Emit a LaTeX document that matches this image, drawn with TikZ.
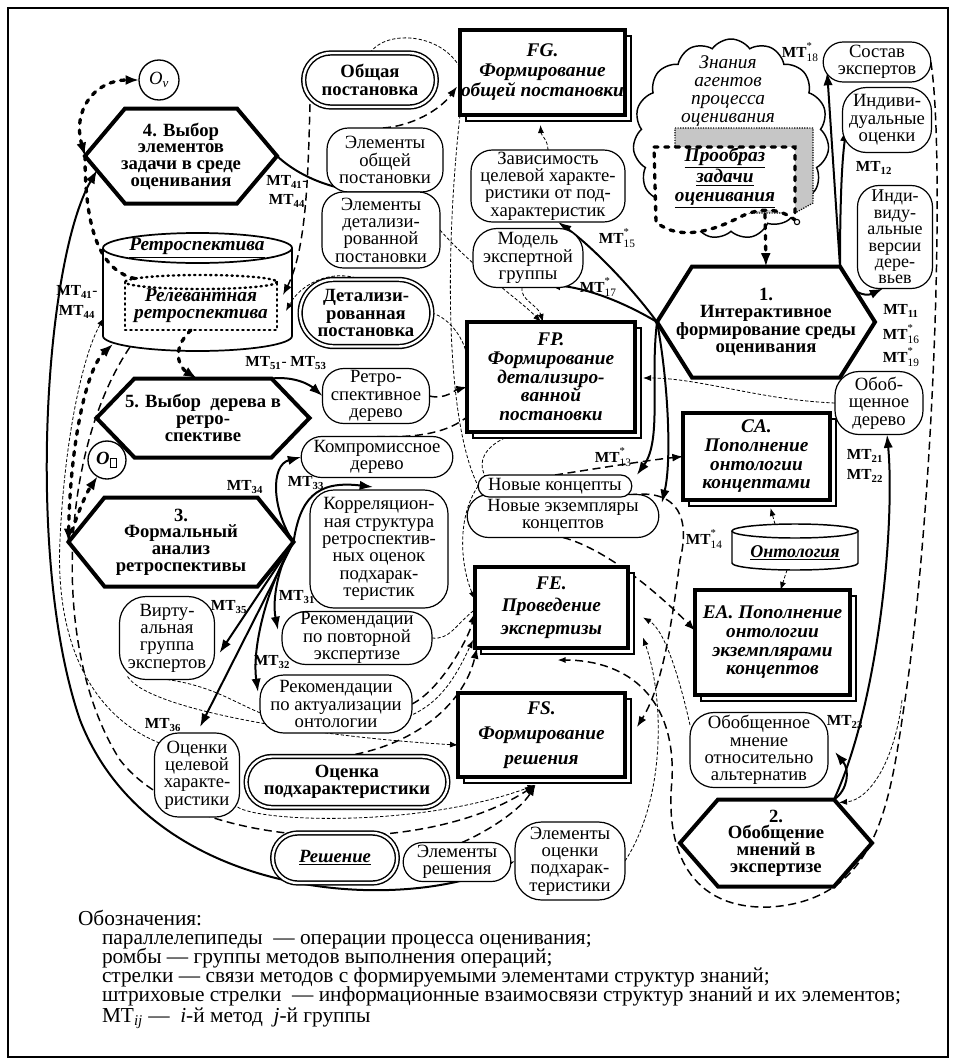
\documentclass[tikz,border=0pt]{standalone}
\usepackage{fontspec}
\setmainfont{Liberation Serif}
\usetikzlibrary{shapes.misc,shapes.symbols,shapes.geometric,arrows.meta,calc,shadows}
\pgfdeclarelayer{bg}
\pgfdeclarelayer{hexl}
\pgfsetlayers{bg,hexl,main}
\newcommand{\mtl}[1]{\textbf{МТ}\textsubscript{\bfseries #1}}
\newcommand{\mts}[1]{\textbf{МТ}\rlap{\raisebox{5.5pt}{\fontsize{8}{8}\selectfont *}}\raisebox{-3pt}{\fontsize{8.5}{8.5}\selectfont #1}}
\newcommand{\hexa}[2]{%
 \coordinate (#1-tl) at ($(#1.north west)+(#2,0)$);
 \coordinate (#1-tr) at ($(#1.north east)+(-#2,0)$);
 \coordinate (#1-bl) at ($(#1.south west)+(#2,0)$);
 \coordinate (#1-br) at ($(#1.south east)+(-#2,0)$);
 \begin{pgfonlayer}{hexl}\draw[hexline] (#1.west) -- (#1-tl) -- (#1-tr) -- (#1.east) -- (#1-br) -- (#1-bl) -- cycle;\end{pgfonlayer}}
\tikzset{
 every node/.style={inner sep=0.5pt, outer sep=0pt},
 wh/.style 2 args={minimum width=#1*0.75pt, minimum height=#2*0.75pt},
 txt/.style={font=\fontsize{14}{13}\selectfont, align=center},
 elem/.style={txt, draw, line width=0.9pt, fill=white, rounded corners=12pt},
 pill/.style={txt, draw, line width=0.9pt, fill=white, rounded rectangle},
 dpill/.style={font=\fontsize{14}{13}\selectfont\bfseries, align=center, draw, rounded rectangle, double, double distance=1.8pt, line width=1.1pt, fill=white},
 opbox/.style={font=\fontsize{14.5}{14}\selectfont\bfseries\itshape, align=center, draw, line width=3pt, fill=white, general shadow={shadow xshift=4.5pt, shadow yshift=-4.5pt, draw, line width=2pt, fill=white}},
 hext/.style={font=\fontsize{14}{12.5}\selectfont\bfseries, align=center, inner sep=0pt},
 hexline/.style={line width=3pt, fill=white, line join=miter},
 meth/.style={line width=1.5pt, -{Latex[length=10pt,width=7pt]}},
 bothL/.style={{Latex[length=10pt,width=7.5pt]}-{Latex[length=10pt,width=7.5pt]}},
 tipL/.style={-{Latex[length=10pt,width=7.5pt]}},
 tipM/.style={-{Latex[length=8pt,width=6pt]}},
 tipS/.style={-{Latex[length=6pt,width=4.5pt]}},
 tdash/.style={line width=2.5pt, dash pattern=on 3pt off 5pt, line cap=round},
 rdot/.style={line width=1.8pt, dash pattern=on 1pt off 3pt, line cap=round},
 mdash/.style={line width=1.1pt, dash pattern=on 6pt off 3.5pt},
 fdash/.style={line width=0.6pt, dash pattern=on 2.5pt off 1.5pt},
 mtlab/.style={font=\fontsize{11.5}{11.5}\selectfont, inner sep=0pt},
 leg/.style={font=\fontsize{16}{15}\selectfont, anchor=base west, inner sep=0pt}
}
\begin{document}
\begin{tikzpicture}[x=0.75pt,y=-0.75pt]
\useasboundingbox (0,0) rectangle (956,1064);
\draw[line width=0.8pt] (8,8) rectangle (948,1057);

% ---------- cloud ----------
\node[cloud, draw, line width=1.1pt, fill=white, cloud puffs=15, cloud puff arc=110, cloud ignores aspect, wh={196}{200}] (cloud) at (731,139) {};
\draw[densely dotted, line width=0.9pt, fill=gray!45] (675,128) -- (813,128) -- (813,203) -- (795,213) -- (675,213) -- cycle;
\draw[tdash, fill=white] (654,147) -- (795,147) -- (795,220) .. controls (780,208) and (760,207) .. (740,217) .. controls (715,230) and (680,242) .. (656,222) -- cycle;
\node[draw, circle, line width=0.8pt, inner sep=0pt, minimum size=4pt, fill=white] (pdot) at (797,222) {};
\coordinate (prob) at (765,214);
\node[font=\fontsize{14.5}{14.3}\selectfont\bfseries\itshape, align=center] (pro) at (725,178) {\underline{Прообраз}\\\underline{задачи}\\\underline{оценивания}};
\node[font=\fontsize{14.5}{13.5}\selectfont\itshape, align=center] (cloudt) at (728,91) {Знания\\агентов\\процесса\\оценивания};

% ---------- nodes ----------
\node[dpill, wh={134}{54}] (obsh) at (370,80) {Общая\\постановка};
\node[circle, draw, line width=1pt, fill=white, wh={40}{40}, font=\fontsize{14}{14}\selectfont] (ov) at (159,80) {{\itshape O}\textsubscript{\itshape v}};
\node[opbox, wh={165}{85}] (fg) at (542.5,72.5) {FG.\\[1pt]Формирование\\[1pt]общей постановки};
\node[pill, wh={109}{40}] (sostav) at (877,62) {Состав\\экспертов};
\node[elem, rounded corners=18pt, wh={89}{65}] (indoc) at (887,120) {Индиви-\\дуальные\\оценки};
\node[elem, rounded corners=16pt, wh={75}{103}, font=\fontsize{13.5}{12.3}\selectfont] (indver) at (895,237) {Инди-\\виду-\\альные\\версии\\дере-\\вьев};
\node[hext, wh={192}{95}] (h4) at (181,156) {4. Выбор\\элементов\\задачи в среде\\оценивания};
\hexa{h4}{40}
\node[elem, rounded corners=16pt, wh={116}{64}] (elob) at (385,160) {Элементы\\общей\\постановки};
\node[elem, rounded corners=16pt, wh={118}{76}] (eldet) at (381,230) {Элементы\\детализи-\\рованной\\постановки};
\node[elem, rounded corners=16pt, wh={154}{72}] (zavis) at (548,186) {Зависимость\\целевой характе-\\ристики от под-\\характеристик};
\node[elem, rounded corners=18pt, wh={110}{59}] (model) at (528,258) {Модель\\экспертной\\группы};
\node[hext, wh={218}{111}] (h1) at (766,322) {1.\\Интерактивное\\формирование среды\\оценивания};
\hexa{h1}{35}
\node[dpill, wh={133}{67}] (detp) at (366,313) {Детализи-\\рованная\\постановка};
\node[opbox, wh={168}{110}] (fp) at (551,377) {FP.\\Формирование\\детализиро-\\ванной\\постановки};
\node[hext, wh={213}{79}] (h5) at (203,418) {5. Выбор \ дерева в\\ретро-\\спективе};
\hexa{h5}{38}
\node[elem, rounded corners=16pt, wh={107}{55}] (retrod) at (376,396) {Ретро-\\спективное\\дерево};
\node[elem, rounded corners=18pt, wh={88}{63}] (obder) at (879,403) {Обоб-\\щенное\\дерево};
\node[opbox, wh={147}{87}] (ca) at (756.5,456.5) {CA.\\Пополнение\\онтологии\\концептами};
\node[circle, draw, line width=1pt, fill=white, wh={38}{38}, font=\fontsize{14}{14}\selectfont] (ob) at (107,460) {{\bfseries\itshape O}\textsubscript{\fboxsep=0.3pt\fboxrule=0.5pt\fbox{\rule{0pt}{6pt}\hspace{4pt}}}};
\node[pill, wh={153}{41}] (kompr) at (377,457) {Компромиссное\\дерево};
\node[hext, wh={225}{89}] (h3) at (181,542) {3.\\Формальный\\анализ\\ретроспективы};
\hexa{h3}{36}
\node[elem, rounded corners=18pt, wh={138}{118}] (korr) at (379,549) {Корреляцион-\\ная структура\\ретроспектив-\\ных оценок\\подхарак-\\теристик};
\node[pill, wh={193}{43}] (nexem) at (563,516) {Новые экземпляры\\концептов};
\node[pill, wh={155}{22}] (nconc) at (555,486) {Новые концепты};
\node[opbox, wh={155}{105}] (ea) at (772.5,642.5) {EA. Пополнение\\онтологии\\экземплярами\\концептов};
\node[opbox, wh={153}{81}] (fe) at (551.5,607.5) {FE.\\[3pt]Проведение\\[3pt]экспертизы};
\node[elem, rounded corners=18pt, wh={150}{53}] (recp) at (357,638) {Рекомендации\\по повторной\\экспертизе};
\node[elem, rounded corners=20pt, wh={95}{83}] (virt) at (167,638) {Вирту-\\альная\\группа\\экспертов};
\node[elem, rounded corners=18pt, wh={152}{58}] (reca) at (336,704) {Рекомендации\\по актуализации\\онтологии};
\node[opbox, wh={167}{84}] (fs) at (541.5,735) {FS.\\[5pt]Формирование\\[5pt]решения};
\node[elem, rounded corners=18pt, wh={138}{75}] (obmn) at (759,750) {Обобщенное\\мнение\\относительно\\альтернатив};
\node[elem, rounded corners=18pt, wh={85}{84}] (ocel) at (197,775) {Оценки\\целевой\\характе-\\ристики};
\node[dpill, wh={203}{51}] (ocpod) at (347,782) {Оценка\\подхарактеристики};
\node[hext, wh={192}{87}] (h2) at (776,843) {2.\\Обобщение\\мнений в\\экспертизе};
\hexa{h2}{38}
\node[dpill, wh={126}{50}, font=\fontsize{14}{13}\selectfont\bfseries\itshape] (resh) at (335,858) {\underline{Решение}};
\node[pill, wh={109}{39}] (elres) at (457,862) {Элементы\\решения};
\node[elem, rounded corners=20pt, wh={110}{78}] (elocp) at (570,861) {Элементы\\оценки\\подхарак-\\теристики};

% ---------- retrospective cylinder ----------
\node[wh={189}{118}] (retro) at (197.5,292) {};
\draw[line width=1.3pt] (197.5,248) ellipse [x radius=94.5, y radius=15];
\draw[line width=1.3pt] (103,248) -- (103,336) .. controls (103,344.3) and (145.3,351) .. (197.5,351) .. controls (249.7,351) and (292,344.3) .. (292,336) -- (292,248);
\node[font=\fontsize{14.5}{14}\selectfont\bfseries\itshape] (retrot) at (197,248) {\underline{Ретроспектива}};
\node[wh={152}{48}, font=\fontsize{14.5}{13}\selectfont\bfseries\itshape, align=center] (relret) at (201,306) {Релевантная\\ретроспектива};
\draw[rdot] (relret.north west) -- (relret.south west) -- (relret.south east) -- (relret.north east);
\draw[rdot] (201,282) ellipse [x radius=76, y radius=7];
\coordinate (retrobot) at (130,347);
\coordinate (retrol) at (104,318);
\coordinate (retrobl) at (113,344);

% ---------- ontology cylinder ----------
\node[wh={126}{46}] (ont) at (795,547) {};
\draw[line width=1.1pt] (795,531) ellipse [x radius=63, y radius=7];
\draw[line width=1.1pt] (732,531) -- (732,563) .. controls (732,567) and (760,570) .. (795,570) .. controls (830,570) and (858,567) .. (858,563) -- (858,531);
\node[font=\fontsize{13.5}{13}\selectfont\bfseries\itshape] (ontt) at (795,553) {\underline{Онтология}};

\coordinate (br) at (902,700);

% ---------- labels ----------
\node[mtlab] (m18) at (800,52) {\mts{18}};
\node[mtlab] (m12) at (874,168) {\mtl{12}};
\node[mtlab] (m11) at (901,311) {\mtl{11}};
\node[mtlab] (m16) at (901,334) {\mts{16}};
\node[mtlab] (m19) at (901,357) {\mts{19}};
\node[mtlab] (m15) at (617,238) {\mts{15}};
\node[mtlab] (m17) at (598,287) {\mts{17}};
\node[mtlab] (m13) at (613,457) {\mts{13}};
\node[mtlab] (m14) at (704,539) {\mts{14}};
\node[mtlab] (m21) at (865,456) {\mtl{21}};
\node[mtlab] (m22) at (865,476) {\mtl{22}};
\node[mtlab] (m23) at (845,722) {\mtl{23}};
\node[mtlab] (m41a) at (287,182) {\mtl{41}-};
\node[mtlab] (m44a) at (287,201) {\mtl{44}};
\node[mtlab] (m41b) at (77,292) {\mtl{41}-};
\node[mtlab] (m44b) at (77,312) {\mtl{44}};
\node[mtlab] (m51) at (286,363) {\mtl{51}- \mtl{53}};
\node[mtlab] (m34) at (245,487) {\mtl{34}};
\node[mtlab] (m33) at (306,483) {\mtl{33}};
\node[mtlab] (m31) at (297,597) {\mtl{31}};
\node[mtlab] (m35) at (229,607) {\mtl{35}};
\node[mtlab] (m32) at (272,662) {\mtl{32}};
\node[mtlab] (m36) at (163,725) {\mtl{36}};

% ---------- legend ----------
\node[leg] (lg0) at (78,925) {Обозначения:};
\node[leg] (lg1) at (102,944) {параллелепипеды \ — операции процесса оценивания;};
\node[leg] (lg2) at (102,963) {ромбы — группы методов выполнения операций;};
\node[leg] (lg3) at (102,982) {стрелки — связи методов с формируемыми элементами структур знаний;};
\node[leg] (lg4) at (102,1001) {штриховые стрелки \ — информационные взаимосвязи структур знаний и их элементов;};
\node[leg] (lg5) at (102,1022) {МТ\textsubscript{\itshape ij} — \ \textit{i}-й метод \ \textit{j}-й группы};

\draw[tdash, tipL] (prob) -- (h1.north);

% ---------- connectors ----------
\begin{pgfonlayer}{bg}
% methods (solid)
\draw[meth] (h4.east) .. controls (305,182) and (345,192) .. (elob.south);
\draw[meth, bothL] ($(h4.west)!0.3!(h4-bl)$) .. controls (45,260) and (25,560) .. (80,720) .. controls (150,900) and (400,915) .. (elocp.west);
\draw[meth] (h1-tr) -- ($(sostav.west)+(4,10)$);
\draw[meth] (h1-tr) .. controls (840,200) and (842,160) .. ($(indoc.west)+(4,8)$);
\draw[meth] ($(h1-tr)!0.2!(h1.east)$) .. controls (850,292) and (865,297) .. ($(indver.south)+(-12,0)$);
\draw[meth] (h1.west) .. controls (630,285) and (590,245) .. ($(zavis.south)+(10,0)$);
\draw[meth] (h1.west) .. controls (620,300) and (585,288) .. ($(model.south)+(19,-3)$);
\draw[meth] (h1.west) .. controls (650,380) and (662,440) .. ($(nconc.east)+(5,-11)$);
\draw[meth] (h1.west) .. controls (668,380) and (672,460) .. ($(nexem.east)+(3,-13)$);
\draw[meth] (h2-tr) .. controls (848,790) and (850,770) .. ($(obmn.east)+(7,2)$);
\draw[meth] (h2-tr) .. controls (880,700) and (895,520) .. ($(obder.south)+(8,0)$);
\draw[meth] (h5-tr) .. controls (295,376) and (310,385) .. (retrod.west);
\draw[meth] (h3.east) .. controls (272,510) and (270,465) .. (kompr.west);
\draw[meth] (h3.east) .. controls (300,500) and (315,480) .. ($(korr.north)+(-6,-3)$);
\draw[meth] (h3.east) .. controls (278,565) and (272,600) .. ($(recp.west)+(-4,-8)$);
\draw[meth] (h3.east) .. controls (265,590) and (252,650) .. ($(reca.west)+(-2,-12)$);
\draw[meth] (h3.east) -- ($(virt.east)+(5,15)$);
\draw[meth] (h3.east) -- ($(ocel.north)+(3,-6)$);
% thick dashed
\draw[tdash, bothL] (h4.west) .. controls (72,110) and (95,80) .. (ov.west);
\draw[tdash] (h4.west) .. controls (85,230) and (100,272) .. ($(relret.north west)+(12,-3)$);
\draw[tdash, tipL] ($(relret.south)+(-10,0)$) .. controls (170,350) and (180,368) .. ($(h5.north)+(-6,0)$);
\draw[tdash, bothL] (h3.west) .. controls (70,450) and (85,370) .. (retrobl);
\draw[tdash, tipL] (h3.west) .. controls (75,520) and (85,495) .. (ob.240);
% medium dashed
\draw[mdash, tipM] ($(obsh.center)+(-60,24)$) .. controls (308,180) and (306,250) .. ($(relret.north east)+(6,13)$);
\draw[mdash, tipM] ($(elob.north)+(-2,0)$) .. controls (412,126) and (440,110) .. ($(fg.west)+(-3,14)$);
\draw[mdash, tipM] (retrod.east) .. controls (445,400) and (455,390) .. ($(fp.west)+(0,10)$);
\draw[mdash] (kompr.north) .. controls (420,438) and (448,432) .. ($(fp.south west)+(0,-15)$);
\draw[mdash, tipM] (reca.east) .. controls (440,690) and (468,640) .. ($(fe.west)+(0,5)$);
\draw[mdash, tipM] ($(ocpod.north)+(-4,0)$) .. controls (420,745) and (465,700) .. ($(fe.south west)+(2,0)$);
\draw[mdash, tipM] ($(elres.north)+(5,0)$) .. controls (490,830) and (520,810) .. ($(fs.south)+(-6,8)$);
\draw[mdash, tipM] (retrobot) .. controls (60,450) and (50,650) .. (120,760) .. controls (190,850) and (420,860) .. ($(fs.south)+(-6,8)$);
\draw[mdash, tipM] (nexem.south) .. controls (610,550) and (665,600) .. ($(ea.west)+(0,-12)$);
\draw[mdash, tipM] (nconc.north) .. controls (600,468) and (650,460) .. (ca.west);
\draw[mdash, tipS] (sostav.east) .. controls (945,150) and (935,500) .. (905,700) .. controls (890,800) and (880,900) .. (770,907) .. controls (690,910) and (665,850) .. (672,780) .. controls (676,700) and (630,660) .. ($(fe.south)+(6,12)$);
\draw[mdash, tipM] ($(nexem.east)+(-30,-21)$) .. controls (680,488) and (690,520) .. (680,560) .. controls (670,640) and (660,690) .. ($(fs.east)+(12,-8)$);
% thin dashed
\draw[fdash] (obsh.north) .. controls (385,30) and (440,32) .. ($(fg.west)+(0,-5)$);
\draw[fdash] (fg.south west) .. controls (445,250) and (445,420) .. (nconc.west);
\draw[fdash, tipS] (nconc.west) .. controls (455,520) and (462,570) .. ($(fe.west)+(0,-8)$);
\draw[fdash, tipS] ($(nconc.west)+(8,-8)$) .. controls (470,452) and (505,432) .. ($(fp.south)+(-12,0)$);
\draw[fdash, tipS] ($(model.south)+(-6,0)$) .. controls (520,300) and (538,305) .. ($(fp.north)+(-8,0)$);
\draw[fdash, tipS] (eldet.east) .. controls (475,270) and (520,300) .. ($(fp.north)+(-10,0)$);
\draw[fdash, tipS] (zavis.north) .. controls (548,140) and (541,135) .. ($(fg.south)+(-2,10)$);
\draw[fdash, tipS] ($(detp.north)+(-5,0)$) .. controls (330,268) and (300,285) .. ($(relret.east)+(9,5)$);
\draw[fdash] (detp.east) .. controls (450,318) and (465,340) .. ($(fp.west)+(0,-20)$);
\draw[fdash, tipS] (obder.west) .. controls (760,400) and (700,378) .. ($(fp.east)+(8,1)$);
\draw[fdash, tipS] ($(ont.north)+(-20,0)$) -- ($(ca.south)+(14,8)$);
\draw[fdash, tipS] ($(ont.south)+(-8,0)$) -- ($(ea.north)+(8,0)$);
\draw[fdash, tipS] ($(obmn.west)+(0,-25)$) .. controls (680,680) and (665,630) .. ($(fe.east)+(15,10)$);
\draw[fdash, tipS] (elocp.east) .. controls (665,800) and (665,700) .. ($(fe.east)+(15,30)$);
\draw[fdash, tipS] (br) .. controls (895,760) and (870,800) .. ($(h2-tr)+(5,3)$);
\draw[fdash] (recp.east) .. controls (450,640) and (455,625) .. ($(fe.west)+(0,2)$);
\draw[fdash, tipS] (virt.south) .. controls (240,690) and (250,725) .. (330,727) .. controls (420,730) and (445,700) .. ($(fe.south west)+(-2,-8)$);
\draw[fdash, tipS] ($(virt.south west)+(8,-3)$) .. controls (150,712) and (330,738) .. ($(fs.west)+(0,10)$);
\draw[fdash, tipS] ($(ocel.south east)+(-2,-10)$) .. controls (260,822) and (420,828) .. ($(fs.south)+(-6,8)$);
\draw[fdash, tipS] ($(ocel.north west)+(5,10)$) .. controls (90,715) and (55,640) .. (60,540) .. controls (65,430) and (85,350) .. (retrol);
\end{pgfonlayer}
\end{tikzpicture}
\end{document}
